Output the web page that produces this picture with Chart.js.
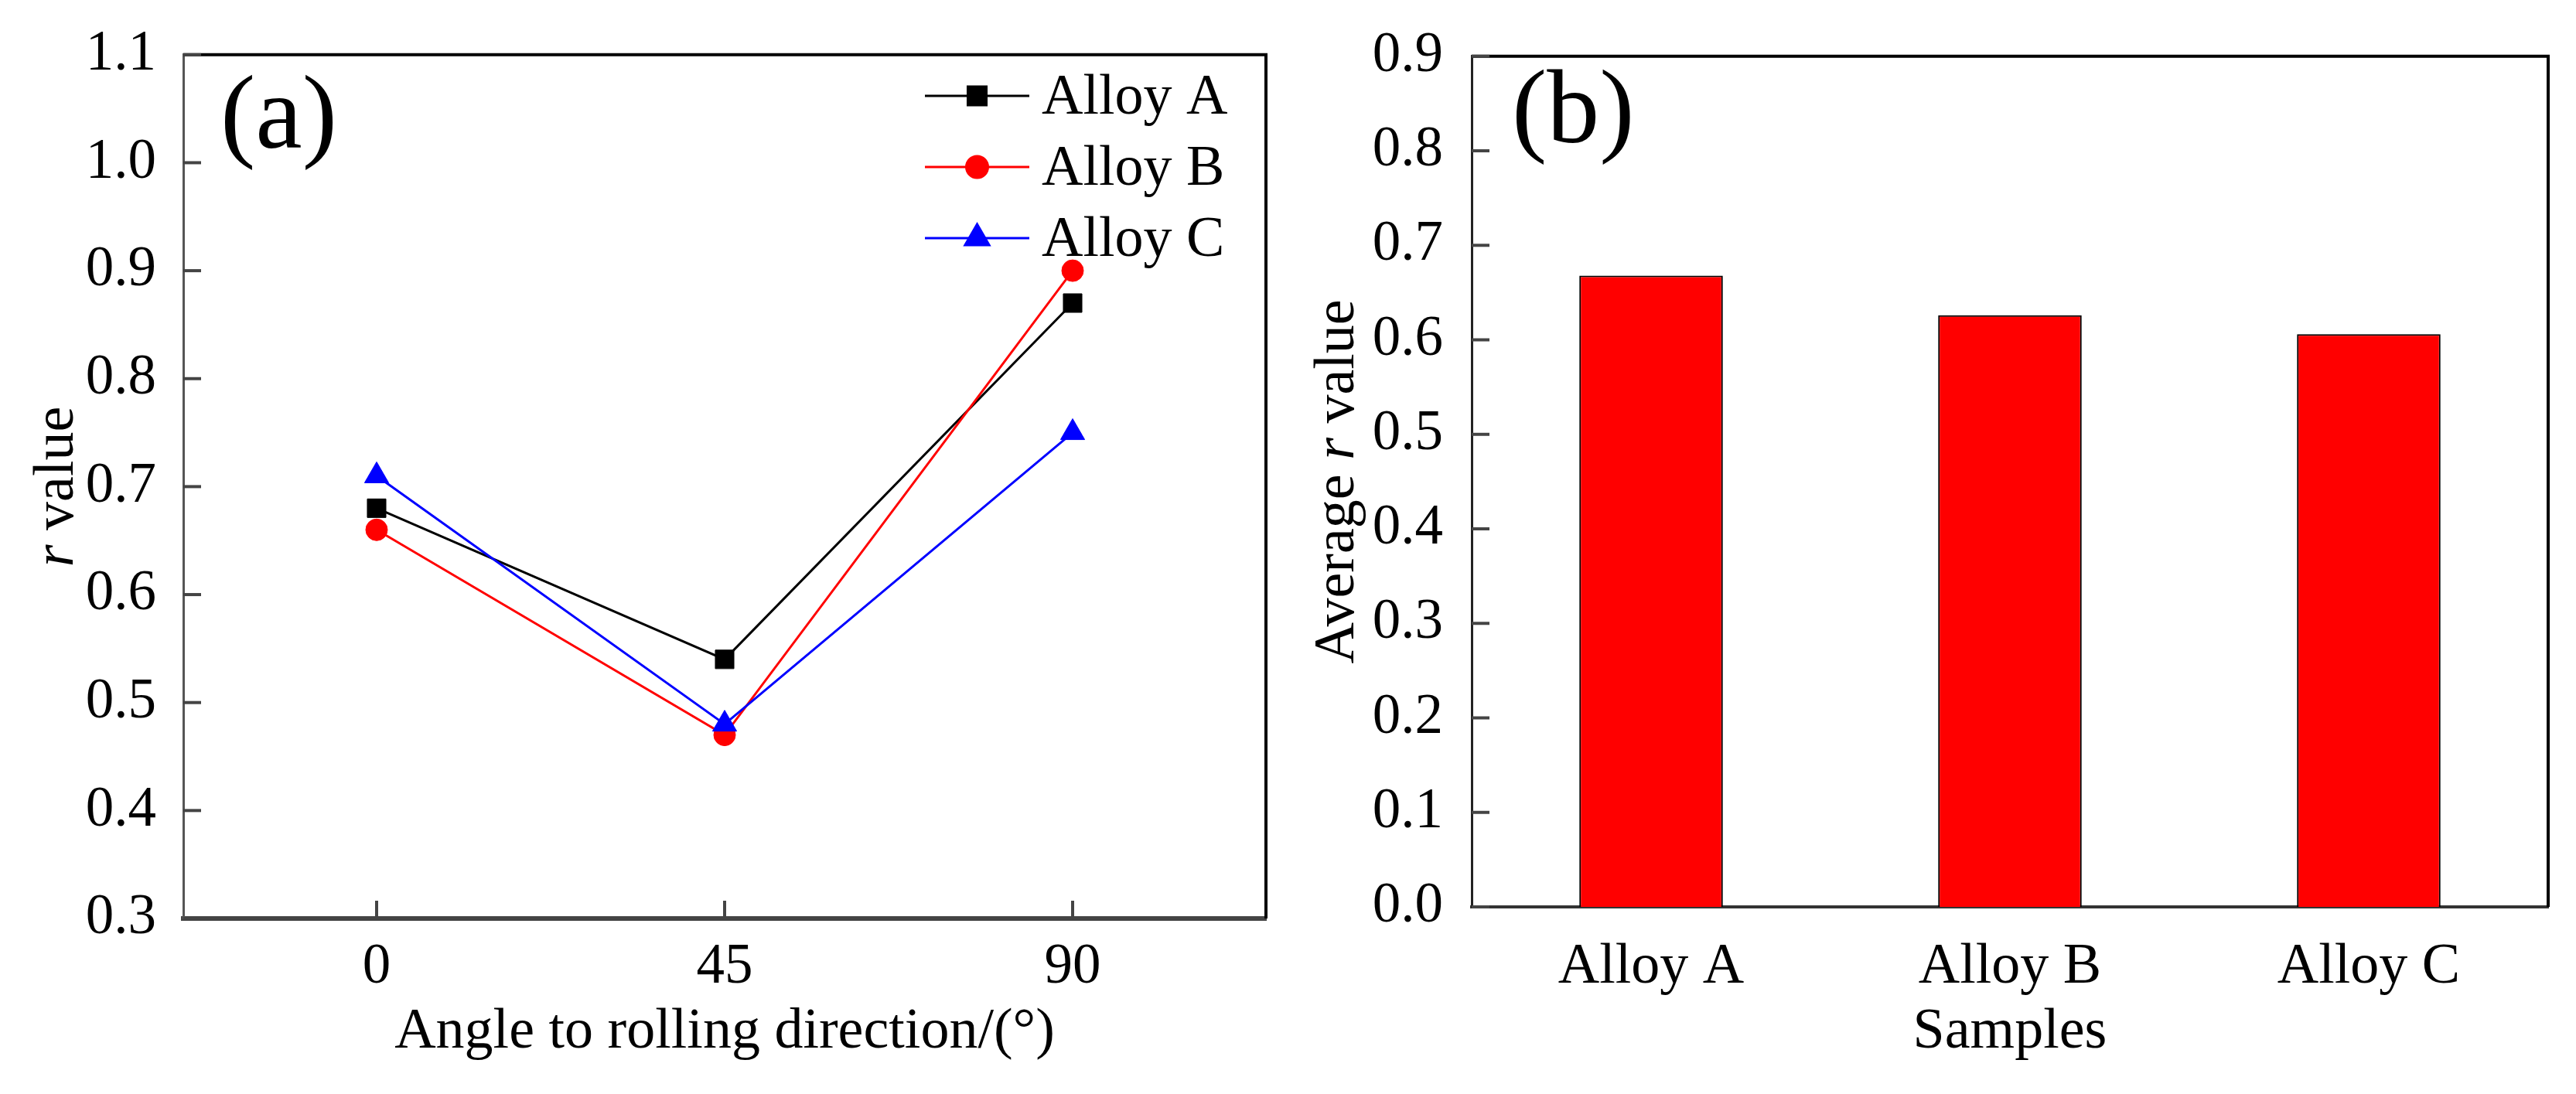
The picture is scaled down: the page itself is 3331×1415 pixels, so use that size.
<!DOCTYPE html>
<html>
<head>
<meta charset="utf-8">
<script src="https://cdn.jsdelivr.net/npm/chart.js@4.4.1/dist/chart.umd.min.js"></script>
<style>
  html, body { margin: 0; padding: 0; background: #fff; }
  #wrapA { position: absolute; left: 0; top: 0; width: 1660px; height: 1415px; }
  #wrapB { position: absolute; left: 1660px; top: 0; width: 1671px; height: 1415px; }
</style>
</head>
<body>
<div id="wrapA"><canvas id="chartA"></canvas></div>
<div id="wrapB"><canvas id="chartB"></canvas></div>
<script>
const FONT = "'Liberation Serif', 'Times New Roman', serif";

// panel (a): r value against angle to rolling direction
const angles = [0, 45, 90];
const alloyA = [0.68, 0.54, 0.87];
const alloyB = [0.66, 0.47, 0.90];
const alloyC = [0.71, 0.48, 0.75];
const rTicks = [0.3, 0.4, 0.5, 0.6, 0.7, 0.8, 0.9, 1.0, 1.1];

// panel (b): average r value per sample
const samples = ['Alloy A', 'Alloy B', 'Alloy C'];
const avgR = [0.668, 0.626, 0.606];
const avgTicks = [0.0, 0.1, 0.2, 0.3, 0.4, 0.5, 0.6, 0.7, 0.8, 0.9];

Chart.defaults.font.family = FONT;
Chart.defaults.color = '#000';

// Origin-like frame: top/right edges, inward ticks, panel letter, rich y title, legend
const framePlugin = {
  id: 'frame',
  afterDraw(chart, args, opts) {
    const { ctx, chartArea: a, scales } = chart;
    ctx.save();
    ctx.lineCap = 'butt';

    ctx.strokeStyle = '#000';
    ctx.lineWidth = 4;
    ctx.beginPath();
    ctx.moveTo(a.left, a.top);
    ctx.lineTo(a.right, a.top);
    ctx.lineTo(a.right, a.bottom);
    ctx.stroke();

    ctx.strokeStyle = '#444';
    ctx.lineWidth = 4;
    scales.y.ticks.forEach(t => {
      const y = scales.y.getPixelForValue(t.value);
      ctx.beginPath();
      ctx.moveTo(a.left, y);
      ctx.lineTo(a.left + 23, y);
      ctx.stroke();
    });
    if (opts.xTicks) {
      scales.x.ticks.forEach(t => {
        const x = scales.x.getPixelForValue(t.value);
        ctx.beginPath();
        ctx.moveTo(x, a.bottom);
        ctx.lineTo(x, a.bottom - 23);
        ctx.stroke();
      });
    }

    // panel letter
    ctx.fillStyle = '#000';
    ctx.textAlign = 'left';
    ctx.textBaseline = 'alphabetic';
    ctx.font = `136px ${FONT}`;
    ctx.fillText(opts.letter, a.left + opts.letterDx, opts.letterY);

    // y title, italic r
    const parts = opts.yTitle;
    const fontOf = p => `${p[1] ? 'italic ' : ''}74px ${FONT}`;
    let total = 0;
    parts.forEach(p => { ctx.font = fontOf(p); total += ctx.measureText(p[0]).width; });
    ctx.translate(opts.yTitleX, (a.top + a.bottom) / 2);
    ctx.rotate(-Math.PI / 2);
    let x = -total / 2;
    parts.forEach(p => {
      ctx.font = fontOf(p);
      ctx.fillText(p[0], x, 0);
      x += ctx.measureText(p[0]).width;
    });
    ctx.setTransform(1, 0, 0, 1, 0, 0);
    ctx.restore();

    // legend
    const lg = opts.legend;
    if (lg) {
      ctx.save();
      chart.data.datasets.forEach((ds, i) => {
        const y = lg.y0 + i * lg.dy;
        ctx.strokeStyle = ds.borderColor;
        ctx.lineWidth = 3;
        ctx.beginPath();
        ctx.moveTo(lg.x1, y);
        ctx.lineTo(lg.x2, y);
        ctx.stroke();
        ctx.fillStyle = ds.pointBackgroundColor;
        ctx.strokeStyle = ds.pointBorderColor;
        Chart.helpers.drawPoint(ctx, {
          pointStyle: ds.pointStyle, radius: ds.pointRadius, rotation: 0, borderWidth: 1
        }, (lg.x1 + lg.x2) / 2, y);
        ctx.fillStyle = '#000';
        ctx.font = `74px ${FONT}`;
        ctx.textAlign = 'left';
        ctx.textBaseline = 'alphabetic';
        ctx.fillText(ds.label, lg.textX, y + 23);
      });
      ctx.restore();
    }
  }
};

function lineSet(label, values, color, style, radius, order) {
  return {
    label,
    data: angles.map((a, i) => ({ x: a, y: values[i] })),
    borderColor: color,
    borderWidth: 3,
    pointBackgroundColor: color,
    pointBorderColor: color,
    pointBorderWidth: 1,
    pointStyle: style,
    pointRadius: radius,
    tension: 0,
    order
  };
}

new Chart(document.getElementById('chartA'), {
  type: 'line',
  data: {
    datasets: [
      lineSet('Alloy A', alloyA, '#000000', 'rect', 17, 3),
      lineSet('Alloy B', alloyB, '#FF0000', 'circle', 14, 2),
      lineSet('Alloy C', alloyC, '#0000FF', 'triangle', 18, 1)
    ]
  },
  options: {
    responsive: true,
    maintainAspectRatio: false,
    animation: false,
    events: [],
    layout: { padding: { top: 63, right: 23, left: 0, bottom: 0 } },
    plugins: {
      legend: { display: false },
      tooltip: { enabled: false },
      frame: {
        letter: '(a)', letterDx: 48, letterY: 191,
        yTitle: [['r', true], [' value', false]], yTitleX: 94,
        xTicks: true,
        legend: { x1: 1196, x2: 1331, textX: 1347, y0: 124, dy: 92 }
      }
    },
    scales: {
      x: {
        type: 'linear',
        min: -25,
        max: 115,
        afterBuildTicks: s => { s.ticks = angles.map(v => ({ value: v })); },
        afterFit: s => { s.height = 227; },
        grid: { display: false },
        border: { display: true, color: '#444', width: 6 },
        ticks: { padding: 12, font: { size: 73 }, color: '#000', maxRotation: 0 },
        title: {
          display: true,
          text: 'Angle to rolling direction/(°)',
          font: { size: 74 },
          color: '#000',
          padding: { top: 0, bottom: 35 }
        }
      },
      y: {
        min: 0.3,
        max: 1.1,
        afterBuildTicks: s => { s.ticks = rTicks.map(v => ({ value: v })); },
        afterFit: s => { s.width = 237; },
        grid: { display: false },
        border: { display: true, color: '#555', width: 3 },
        ticks: { padding: 27, font: { size: 73 }, color: '#000', callback: v => v.toFixed(1) }
      }
    }
  },
  plugins: [framePlugin]
});

new Chart(document.getElementById('chartB'), {
  type: 'bar',
  data: {
    labels: samples,
    datasets: [{
      label: 'Average r value',
      data: avgR,
      backgroundColor: '#FF0000',
      borderColor: '#000000',
      borderWidth: 2,
      barPercentage: 0.4,
      categoryPercentage: 1.0
    }]
  },
  options: {
    responsive: true,
    maintainAspectRatio: false,
    animation: false,
    events: [],
    layout: { padding: { top: 61, right: 36, left: 0, bottom: 0 } },
    plugins: {
      legend: { display: false },
      tooltip: { enabled: false },
      frame: {
        letter: '(b)', letterDx: 52, letterY: 184,
        yTitle: [['Average ', false], ['r', true], [' value', false]], yTitleX: 90,
        xTicks: false
      }
    },
    scales: {
      x: {
        afterFit: s => { s.height = 242; },
        grid: { display: false },
        border: { display: true, color: '#333', width: 4 },
        ticks: { padding: 26, font: { size: 74 }, color: '#000', maxRotation: 0 },
        title: {
          display: true,
          text: 'Samples',
          font: { size: 74 },
          color: '#000',
          padding: { top: 0, bottom: 35 }
        }
      },
      y: {
        min: 0,
        max: 0.9,
        afterBuildTicks: s => { s.ticks = avgTicks.map(v => ({ value: v })); },
        afterFit: s => { s.width = 243; },
        grid: { display: false },
        border: { display: true, color: '#222', width: 3 },
        ticks: { padding: 29, font: { size: 73 }, color: '#000', callback: v => v.toFixed(1) }
      }
    }
  },
  plugins: [framePlugin]
});
</script>
</body>
</html>
